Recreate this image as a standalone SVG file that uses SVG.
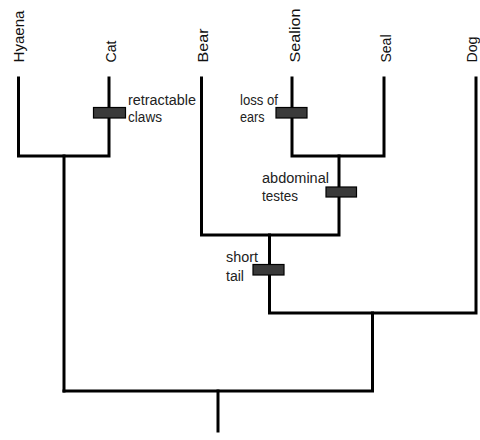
<svg xmlns="http://www.w3.org/2000/svg" width="480" height="440" viewBox="0 0 480 440">
<style>
.ln{stroke:#000;stroke-width:3;fill:none;stroke-linecap:square}
.bar{fill:#3a3a3a;stroke:#000;stroke-width:1.2}
.sp{font-family:"Liberation Sans","DejaVu Sans",sans-serif;font-size:14px;fill:#111}
.lb{font-family:"Liberation Sans","DejaVu Sans",sans-serif;font-size:15.5px;fill:#222}
</style>
<rect width="480" height="440" fill="#fff"/>
<g id="connectors">
<path class="ln" d="M18.5,78 V156 H109 V78"/>
<path class="ln" d="M64,156 V391"/>
<path class="ln" d="M292,78 V156 H384 V78"/>
<path class="ln" d="M339,156 V235 H201.5 V78"/>
<path class="ln" d="M269.5,235 V313 H476 V78"/>
<path class="ln" d="M372.5,313 V391 H64"/>
<path class="ln" d="M218,391 V431"/>
</g>
<g id="hyaena"><text class="sp" transform="translate(23.5,62.5) rotate(-90)" textLength="52" lengthAdjust="spacingAndGlyphs">Hyaena</text></g>
<g id="cat"><text class="sp" transform="translate(116,62.5) rotate(-90)" textLength="22" lengthAdjust="spacingAndGlyphs">Cat</text></g>
<g id="bear"><text class="sp" transform="translate(208,62.5) rotate(-90)" textLength="34" lengthAdjust="spacingAndGlyphs">Bear</text></g>
<g id="sealion"><text class="sp" transform="translate(300,62.5) rotate(-90)" textLength="54" lengthAdjust="spacingAndGlyphs">Sealion</text></g>
<g id="seal"><text class="sp" transform="translate(391,62.5) rotate(-90)" textLength="28" lengthAdjust="spacingAndGlyphs">Seal</text></g>
<g id="dog"><text class="sp" transform="translate(476.5,62.5) rotate(-90)" textLength="26" lengthAdjust="spacingAndGlyphs">Dog</text></g>
<g id="retractable-claws">
<rect class="bar" x="93.5" y="107.5" width="32" height="10.5"/>
<text class="lb" x="128" y="105" textLength="68" lengthAdjust="spacingAndGlyphs">retractable</text>
<text class="lb" x="128" y="122" textLength="34" lengthAdjust="spacingAndGlyphs">claws</text>
</g>
<g id="loss-of-ears">
<rect class="bar" x="276" y="107.5" width="31" height="10.5"/>
<text class="lb" x="240" y="105" textLength="38" lengthAdjust="spacingAndGlyphs">loss of</text>
<text class="lb" x="240" y="121.5" textLength="24.5" lengthAdjust="spacingAndGlyphs">ears</text>
</g>
<g id="abdominal-testes">
<rect class="bar" x="326" y="187" width="30.5" height="10"/>
<text class="lb" x="262" y="182.5" textLength="67" lengthAdjust="spacingAndGlyphs">abdominal</text>
<text class="lb" x="262" y="200.5" textLength="36" lengthAdjust="spacingAndGlyphs">testes</text>
</g>
<g id="short-tail">
<rect class="bar" x="253" y="264.5" width="31" height="10.5"/>
<text class="lb" x="226" y="262" textLength="32" lengthAdjust="spacingAndGlyphs">short</text>
<text class="lb" x="226" y="280.5" textLength="18" lengthAdjust="spacingAndGlyphs">tail</text>
</g>
</svg>
